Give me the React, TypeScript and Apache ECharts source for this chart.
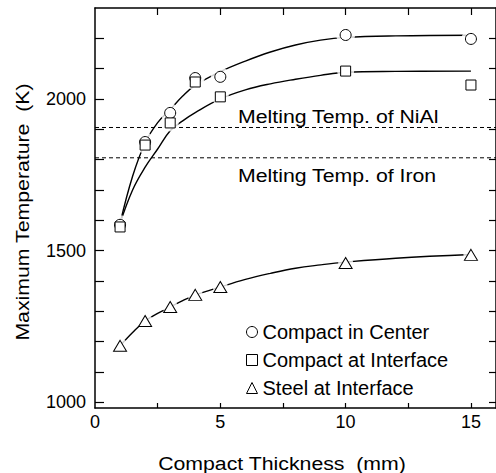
import React, { useEffect, useRef } from "react";
import * as echarts from "echarts";

// Measured points
const thickness = [1, 2, 3, 4, 5, 10, 15];
const centerTemp = [1585, 1858, 1954, 2069, 2073, 2211, 2198];
const interfaceTemp = [1578, 1848, 1921, 2056, 2007, 2092, 2046];
const steelTemp = [1186, 1268, 1314, 1354, 1380, 1459, 1486];

// Fitted curves
const fitX = [1, 1.5, 2, 2.5, 3, 3.5, 4, 5, 6, 7, 8, 9, 10, 12, 15];
const centerFit = [1590, 1745, 1855, 1922, 1965, 2010, 2045, 2090, 2125, 2155, 2178, 2194, 2203, 2208, 2210];
const interfaceFit = [1590, 1700, 1775, 1835, 1895, 1928, 1955, 2000, 2030, 2050, 2065, 2078, 2088, 2091, 2092];
const steelFit = [1186, 1230, 1268, 1293, 1314, 1335, 1353, 1380, 1405, 1425, 1442, 1453, 1462, 1475, 1487];

// Melting temperatures (dashed reference lines)
const meltNiAl = 1906;
const meltIron = 1806;

// Axes
const xMin = 0;
const xMax = 16;
const yMin = 981;
const yMax = 2300;
const xTickValues = [2.5, 5, 7.5, 10, 12.5, 15];
const xLabelValues = [0, 5, 10, 15];
const yTickValues = [1000, 1100, 1200, 1300, 1400, 1500, 1600, 1700, 1800, 1900, 2000, 2100, 2200];
const yLabelValues = [1000, 1500, 2000];

const seriesNames = ["Compact in Center", "Compact at Interface", "Steel at Interface"];

const FONT = "'Liberation Sans', Arial, Helvetica, sans-serif";

export default function App() {
  const ref = useRef<HTMLDivElement>(null);
  useEffect(() => {
    document.body.style.margin = "0";
    if (!ref.current) return;
    const chart = echarts.init(ref.current, null, { renderer: "svg" });
    const pts = (ys: number[]) => thickness.map((x, i) => [x, ys[i]]);
    const fit = (ys: number[]) => fitX.map((x, i) => [x, ys[i]]);
    const axisLine = { show: true, onZero: false, lineStyle: { color: "#000", width: 1.5 } };
    const tickStyle = { color: "#000", width: 1.2 };
    const plain = (v: number) => String(v);
    const curve = (data: number[][]) => ({
      type: "line",
      data,
      smooth: 0.4,
      showSymbol: false,
      symbol: "none",
      silent: true,
      z: 2,
      lineStyle: { color: "#000", width: 1.4 },
    });
    const halo = (data: number[][], size: number) => ({
      type: "scatter",
      data,
      symbol: "circle",
      symbolSize: size,
      silent: true,
      z: 3,
      itemStyle: { color: "#fff", borderWidth: 0 },
    });
    const marker = (name: string, data: number[][], symbol: string, size: any) => ({
      type: "scatter",
      name,
      data,
      symbol,
      symbolSize: size,
      z: 4,
      itemStyle: { color: "#fff", borderColor: "#000", borderWidth: 1, opacity: 1 },
    });
    const dashed = (v: number) => ({
      type: "line",
      data: [
        [xMin, v],
        [xMax, v],
      ],
      symbol: "none",
      silent: true,
      z: 1,
      lineStyle: { color: "#000", width: 1, type: [4, 3] },
    });
    const option: any = {
      animation: false,
      backgroundColor: "#fff",
      grid: { left: 95, right: -1, top: 8, bottom: 65 },
      xAxis: [
        {
          type: "value",
          min: xMin,
          max: xMax,
          position: "bottom",
          axisLine,
          axisTick: { show: true, inside: true, length: 5, customValues: xTickValues, lineStyle: tickStyle },
          axisLabel: { customValues: xLabelValues, formatter: plain, margin: 5, fontSize: 18, color: "#000", fontFamily: FONT },
          splitLine: { show: false },
        },
        {
          type: "value",
          min: xMin,
          max: xMax,
          position: "top",
          axisLine,
          axisTick: { show: true, inside: true, length: 7, customValues: xTickValues, lineStyle: tickStyle },
          axisLabel: { show: false },
          splitLine: { show: false },
        },
      ],
      yAxis: [
        {
          type: "value",
          min: yMin,
          max: yMax,
          position: "left",
          axisLine,
          axisTick: { show: true, inside: true, length: 9, customValues: yTickValues, lineStyle: tickStyle },
          axisLabel: { customValues: yLabelValues, formatter: plain, margin: 9, fontSize: 18, color: "#000", fontFamily: FONT },
          splitLine: { show: false },
        },
        {
          type: "value",
          min: yMin,
          max: yMax,
          position: "right",
          axisLine,
          axisTick: { show: true, inside: true, length: 7, customValues: yTickValues, lineStyle: tickStyle },
          axisLabel: { show: false },
          splitLine: { show: false },
        },
      ],
      legend: {
        data: seriesNames,
        orient: "vertical",
        left: 241,
        top: 317,
        itemWidth: 11,
        itemHeight: 11,
        itemGap: 8,
        selectedMode: false,
        itemStyle: { borderWidth: 1, borderColor: "#000", color: "#fff" },
        textStyle: { fontSize: 20, color: "#000", fontFamily: FONT },
      },
      series: [
        dashed(meltNiAl),
        dashed(meltIron),
        curve(fit(centerFit)),
        curve(fit(interfaceFit)),
        curve(fit(steelFit)),
        halo(pts(centerTemp), 19),
        halo(pts(interfaceTemp), 17),
        halo(pts(steelTemp), 15),
        marker(seriesNames[0], pts(centerTemp), "circle", 11),
        marker(seriesNames[1], pts(interfaceTemp), "rect", 10),
        marker(seriesNames[2], pts(steelTemp), "triangle", [13, 11]),
      ],
      graphic: [
        {
          type: "text",
          x: 282,
          y: 463,
          scaleX: 1.12,
          style: { text: "Compact Thickness  (mm)", fontSize: 19, fontFamily: FONT, fill: "#000", textAlign: "center", textVerticalAlign: "middle" },
        },
        {
          type: "text",
          x: 22,
          y: 212,
          rotation: Math.PI / 2,
          scaleX: 1.12,
          style: { text: "Maximum Temperature  (K)", fontSize: 19, fontFamily: FONT, fill: "#000", textAlign: "center", textVerticalAlign: "middle" },
        },
        {
          type: "text",
          x: 238,
          y: 116,
          scaleX: 1.12,
          style: { text: "Melting Temp. of NiAl", fontSize: 19, fontFamily: FONT, fill: "#000", textAlign: "left", textVerticalAlign: "middle" },
        },
        {
          type: "text",
          x: 238,
          y: 175,
          scaleX: 1.12,
          style: { text: "Melting Temp. of Iron", fontSize: 19, fontFamily: FONT, fill: "#000", textAlign: "left", textVerticalAlign: "middle" },
        },
      ],
    };
    chart.setOption(option);
    return () => chart.dispose();
  }, []);
  return <div ref={ref} style={{ width: 496, height: 473 }} />;
}
